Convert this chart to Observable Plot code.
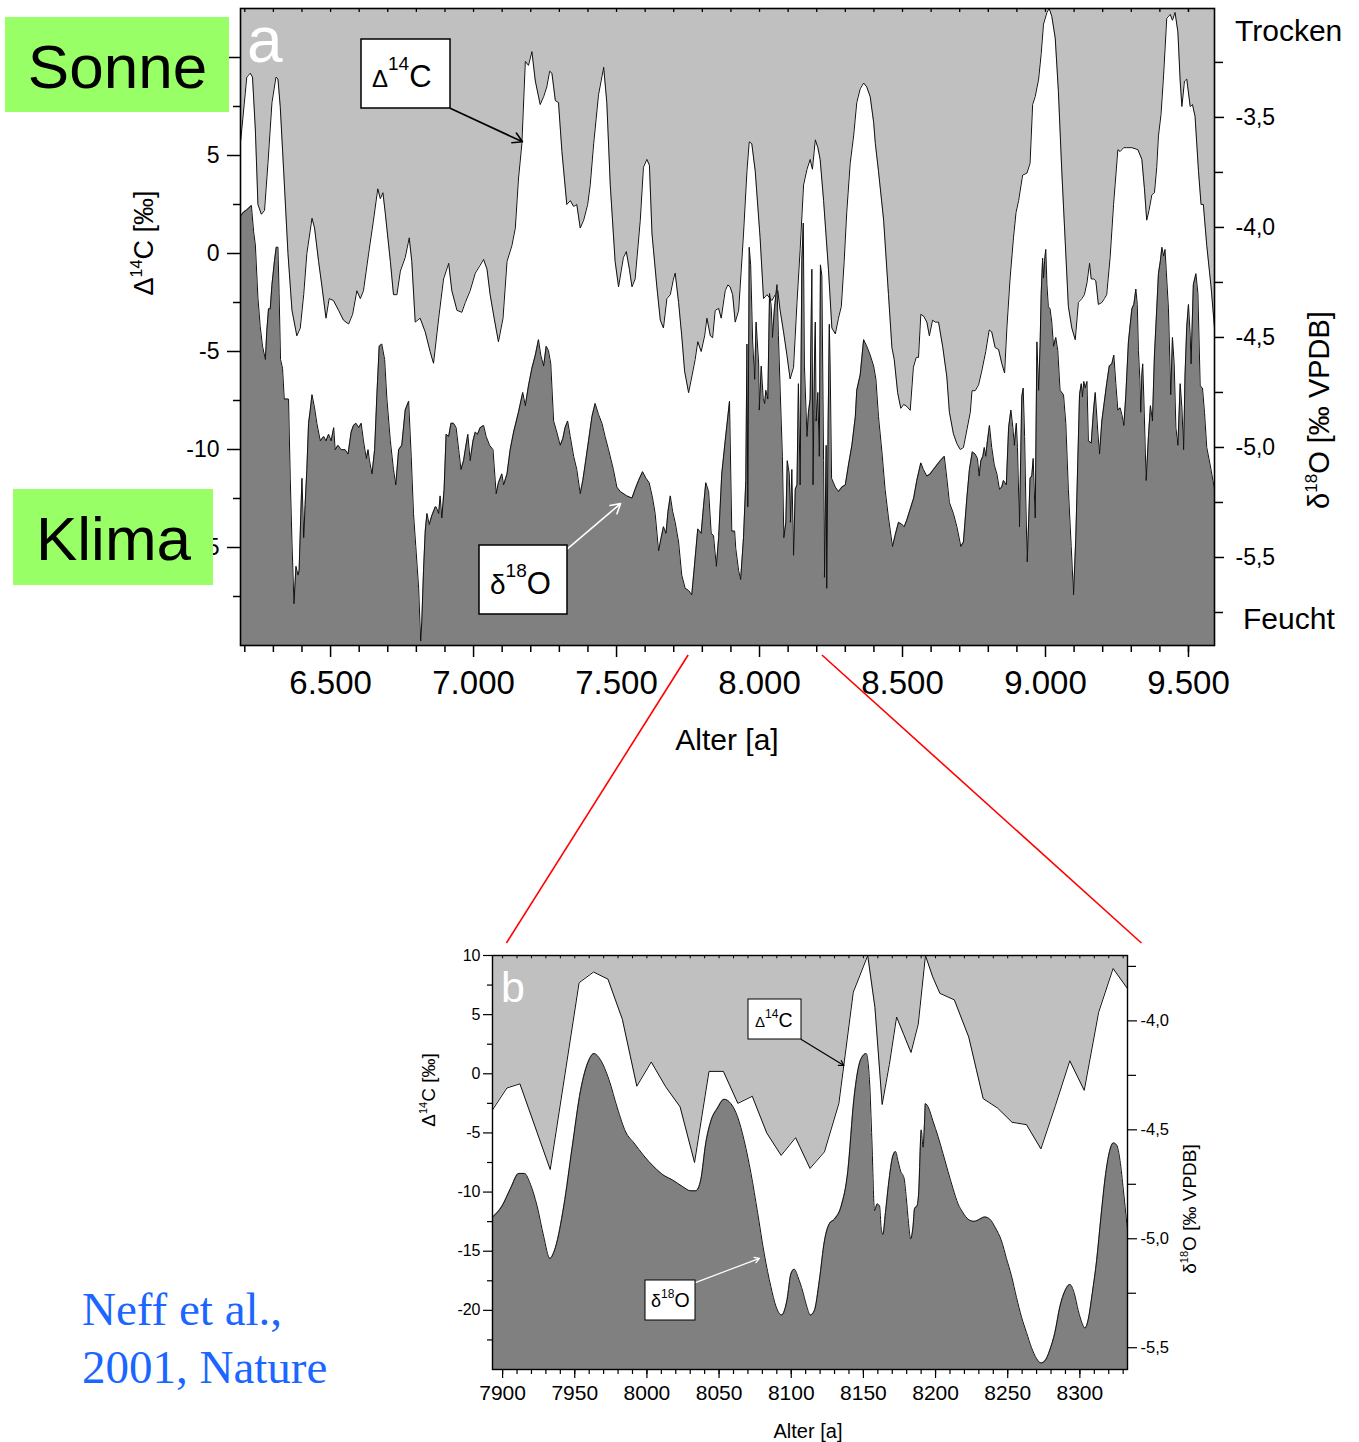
<!DOCTYPE html>
<html>
<head>
<meta charset="utf-8">
<script src="https://cdn.jsdelivr.net/npm/d3@7"></script>
<script src="https://cdn.jsdelivr.net/npm/@observablehq/plot@0.6"></script>
<style>
html,body{margin:0;padding:0;background:#fff}
#root{position:relative;width:1359px;height:1442px;overflow:hidden;background:#fff}
#root svg{position:absolute;left:0}
</style>
</head>
<body>
<div id="root"></div>
<script>
// ---------------- DATA ----------------
// Panel a: Δ14C [‰] (year BP, value)
const aC14 = [
[6186,5.8],[6207,9.0],[6219,9.2],[6227,9.0],[6237,6.3],[6246,2.5],[6258,2.0],[6269,2.2],[6281,4.6],[6295,7.7],[6309,9.0],[6316,8.9],[6324,7.5],[6336,4.2],[6351,0.0],[6365,-2.9],[6382,-4.2],[6394,-3.8],[6406,-2.1],[6417,0.0],[6435,1.8],[6444,1.3],[6458,-0.4],[6470,-1.7],[6484,-3.3],[6495,-2.3],[6510,-2.4],[6528,-2.9],[6545,-3.4],[6563,-3.6],[6577,-3.1],[6592,-1.9],[6604,-2.3],[6615,-1.9],[6633,0.0],[6650,1.7],[6665,3.3],[6674,2.8],[6683,3.1],[6691,2.1],[6709,-0.4],[6720,-2.1],[6732,-2.1],[6744,-0.9],[6761,-0.2],[6775,0.8],[6784,-0.4],[6796,-3.5],[6813,-3.3],[6831,-4.0],[6848,-5.0],[6860,-5.6],
[6878,-3.3],[6895,-1.3],[6913,-0.5],[6924,-1.9],[6942,-2.9],[6959,-3.0],[6971,-2.5],[6988,-1.9],[7006,-1.0],[7023,-0.6],[7035,-0.3],[7047,-0.8],[7058,-2.1],[7072,-3.3],[7087,-4.5],[7103,-3.3],[7117,-0.4],[7134,0.4],[7146,1.3],[7157,3.8],[7169,5.6],[7181,9.8],[7192,9.6],[7204,10.3],[7216,8.8],[7233,7.6],[7245,8.0],[7256,8.5],[7266,9.3],[7274,9.2],[7286,7.8],[7297,7.7],[7309,5.2],[7326,2.5],[7338,2.7],[7350,2.4],[7361,2.5],[7373,1.3],[7385,1.7],[7399,2.5],[7408,3.5],[7420,5.6],[7437,8.1],[7455,9.5],[7466,7.7],[7478,3.5],[7495,-0.4],[7507,-1.7],[7524,-0.2],[7534,0.1],[7545,-0.8],
[7554,-1.7],[7565,-1.3],[7583,1.7],[7594,4.4],[7606,4.8],[7615,4.5],[7624,1.0],[7641,-1.7],[7653,-3.4],[7664,-3.8],[7676,-2.3],[7688,-2.1],[7699,-1.3],[7705,-1.0],[7717,-2.5],[7728,-4.2],[7738,-6.0],[7752,-7.1],[7763,-6.3],[7775,-5.4],[7784,-4.5],[7796,-5.0],[7808,-4.2],[7816,-3.3],[7828,-4.2],[7836,-4.3],[7845,-2.9],[7857,-2.8],[7866,-3.3],[7880,-1.9],[7889,-1.6],[7897,-1.7],[7906,-2.1],[7915,-3.5],[7927,-2.9],[7944,1.0],[7956,4.2],[7964,5.7],[7973,5.6],[7985,4.2],[8002,0.8],[8014,-2.3],[8026,-2.1],[8043,-2.4],[8055,-2.1],[8064,-1.9],[8072,-2.9],[8084,-4.0],[8096,-5.2],[8107,-6.4],[8119,-5.8],[8131,-2.5],[8142,0.2],[8154,3.5],[8166,4.3],[8177,4.8],[8185,4.3],[8195,5.8],[8204,5.4],[8212,4.8],
[8224,2.7],[8241,-0.8],[8253,-3.8],[8265,-4.1],[8276,-3.3],[8286,-2.7],[8296,-0.4],[8305,2.1],[8317,4.6],[8329,6.0],[8340,7.7],[8352,8.4],[8364,8.7],[8375,8.5],[8387,8.0],[8399,6.7],[8405,5.6],[8416,4.2],[8434,1.7],[8451,-2.1],[8463,-4.8],[8471,-5.4],[8483,-7.1],[8494,-7.9],[8504,-7.7],[8515,-7.8],[8527,-8.0],[8538,-5.8],[8548,-5.3],[8556,-5.3],[8564,-3.1],[8574,-3.2],[8585,-3.5],[8594,-4.2],[8605,-3.4],[8614,-3.5],[8626,-3.5],[8641,-4.8],[8655,-6.3],[8664,-8.1],[8678,-9.2],[8690,-9.7],[8702,-10.0],[8713,-9.9],[8725,-9.0],[8737,-8.1],[8743,-7.0],[8754,-7.0],[8766,-6.7],[8777,-6.0],[8791,-5.0],[8803,-3.9],[8812,-4.0],[8824,-4.8],[8836,-4.9],[8847,-5.6],[8857,-6.1],[8865,-3.8],[8876,-1.3],[8888,0.8],[8897,2.1],
[8906,2.7],[8920,4.0],[8935,4.1],[8946,4.6],[8955,7.6],[8964,8.0],[8976,8.9],[8985,10.2],[8993,11.7],[9005,12.3],[9013,12.5],[9022,12.1],[9034,11.0],[9045,8.3],[9057,4.2],[9069,0.6],[9080,-2.7],[9092,-3.8],[9104,-4.4],[9115,-2.5],[9127,-2.3],[9136,-2.1],[9145,-1.5],[9154,-0.5],[9160,-1.3],[9169,-1.3],[9176,-1.4],[9185,-2.6],[9197,-2.5],[9206,-2.3],[9214,-2.1],[9226,-0.2],[9238,2.5],[9253,5.3],[9261,5.2],[9273,5.4],[9284,5.4],[9302,5.4],[9323,5.3],[9337,4.8],[9346,3.3],[9354,1.7],[9362,2.2],[9372,3.0],[9381,3.1],[9389,4.4],[9395,6.0],[9404,7.1],[9413,9.1],[9424,12.0],[9436,12.2],[9444,11.9],[9453,12.3],[9463,11.3],[9471,8.8],[9477,7.5],[9486,8.8],[9494,8.9],[9506,7.5],[9514,7.6],[9523,7.0],[9535,4.2],[9544,2.5],[9552,2.5],[9564,0.4],[9579,-1.7],[9591,-3.8]
];
// Panel a: δ18O [‰ VPDB]
const aO18 = [
[6184,-3.95],[6196,-3.93],[6207,-3.92],[6223,-3.90],[6231,-4.02],[6237,-4.08],[6246,-4.32],[6254,-4.45],[6262,-4.54],[6272,-4.60],[6277,-4.47],[6283,-4.37],[6289,-4.37],[6295,-4.26],[6304,-4.15],[6310,-4.09],[6316,-4.09],[6320,-4.30],[6325,-4.60],[6332,-4.64],[6338,-4.78],[6347,-4.78],[6353,-4.78],[6359,-5.14],[6365,-5.43],[6372,-5.71],[6379,-5.54],[6386,-5.58],[6390,-5.56],[6396,-5.30],[6400,-5.14],[6406,-5.41],[6411,-5.26],[6417,-5.10],[6423,-4.89],[6429,-4.83],[6435,-4.76],[6444,-4.82],[6452,-4.89],[6464,-4.97],[6476,-4.95],[6484,-4.97],[6493,-4.94],[6502,-4.97],[6511,-4.91],[6516,-5.01],[6526,-4.99],[6537,-5.01],[6551,-5.01],[6561,-5.03],[6572,-4.93],[6580,-4.90],[6589,-4.89],[6598,-4.91],[6607,-4.89],[6615,-4.97],[6625,-5.05],[6631,-5.01],[6636,-5.06],[6645,-5.12],[6654,-5.01],[6662,-4.76],[6670,-4.54],[6679,-4.53],[6689,-4.60],[6697,-4.78],[6709,-4.97],[6720,-5.10],[6728,-5.17],[6738,-5.01],[6749,-4.99],[6761,-4.83],[6773,-4.79],[6782,-5.04],[6790,-5.30],[6798,-5.45],[6808,-5.64],[6815,-5.88],[6819,-5.79],[6825,-5.56],[6831,-5.38],[6837,-5.30],[6845,-5.35],[6854,-5.31],[6866,-5.27],
[6869,-5.27],[6878,-5.30],[6883,-5.22],[6889,-5.32],[6897,-5.19],[6904,-4.94],[6913,-4.95],[6921,-4.89],[6930,-4.89],[6939,-4.91],[6948,-5.01],[6956,-5.10],[6965,-5.06],[6971,-5.01],[6980,-4.94],[6988,-5.06],[6998,-4.97],[7006,-4.93],[7014,-4.94],[7023,-4.91],[7035,-4.90],[7044,-4.95],[7056,-4.99],[7068,-5.01],[7079,-5.21],[7087,-5.16],[7099,-5.12],[7105,-5.17],[7117,-5.12],[7128,-5.01],[7140,-4.93],[7157,-4.84],[7172,-4.75],[7181,-4.81],[7192,-4.72],[7204,-4.64],[7216,-4.58],[7227,-4.51],[7235,-4.58],[7245,-4.63],[7254,-4.54],[7262,-4.56],[7270,-4.62],[7280,-4.88],[7291,-4.93],[7303,-4.99],[7312,-4.96],[7320,-4.91],[7329,-4.88],[7338,-4.95],[7350,-5.04],[7361,-5.10],[7373,-5.21],[7382,-5.15],[7390,-5.08],[7402,-4.97],[7414,-4.86],[7425,-4.80],[7437,-4.85],[7449,-4.89],[7460,-4.95],[7472,-5.01],[7489,-5.10],[7501,-5.18],[7513,-5.20],[7536,-5.22],
[7554,-5.23],[7565,-5.19],[7577,-5.15],[7591,-5.11],[7603,-5.14],[7614,-5.16],[7626,-5.23],[7635,-5.30],[7647,-5.47],[7656,-5.41],[7664,-5.36],[7673,-5.39],[7680,-5.29],[7688,-5.22],[7696,-5.29],[7705,-5.34],[7717,-5.43],[7728,-5.58],[7740,-5.64],[7752,-5.65],[7763,-5.67],[7773,-5.53],[7784,-5.37],[7796,-5.39],[7804,-5.27],[7812,-5.16],[7822,-5.20],[7831,-5.39],[7839,-5.40],[7849,-5.54],[7857,-5.41],[7868,-5.12],[7880,-4.97],[7895,-4.79],[7903,-5.38],[7913,-5.38],[7917,-5.46],[7927,-5.56],[7934,-5.60],[7944,-5.41],[7952,-5.15],[7956,-4.53],[7959,-5.27],[7964,-4.09],[7969,-4.17],[7976,-4.52],[7983,-4.69],[7988,-4.43],[7997,-4.62],[7999,-4.83],[8006,-4.63],[8013,-4.78],[8018,-4.80],[8022,-4.74],[8029,-4.78],[8035,-4.30],[8041,-4.36],[8045,-4.50],[8052,-4.37],[8061,-4.26],[8066,-4.49],[8072,-4.73],[8080,-5.04],[8085,-5.41],[8092,-5.34],[8097,-5.06],[8104,-5.12],[8108,-5.34],[8113,-5.10],[8119,-5.49],[8125,-5.19],[8131,-5.17],[8136,-4.71],[8142,-5.17],[8148,-4.15],[8153,-3.98],[8157,-4.63],[8166,-4.95],[8171,-4.84],[8177,-4.78],[8183,-4.19],[8187,-5.17],[8192,-4.62],[8195,-4.43],[8198,-4.88],[8204,-4.75],[8209,-5.04],[8213,-4.17],[8218,-4.22],[8224,-5.06],
[8227,-5.59],[8233,-4.99],[8235,-5.64],[8240,-4.88],[8244,-4.44],[8247,-4.63],[8252,-5.14],[8265,-5.18],[8276,-5.20],[8288,-5.18],[8300,-5.17],[8311,-5.08],[8323,-4.99],[8335,-4.86],[8340,-4.74],[8352,-4.67],[8364,-4.51],[8375,-4.54],[8387,-4.58],[8399,-4.63],[8407,-4.69],[8416,-4.86],[8428,-5.02],[8439,-5.19],[8451,-5.32],[8465,-5.45],[8474,-5.40],[8486,-5.34],[8498,-5.35],[8506,-5.36],[8515,-5.33],[8527,-5.28],[8539,-5.23],[8550,-5.15],[8564,-5.07],[8573,-5.10],[8585,-5.13],[8597,-5.12],[8608,-5.10],[8620,-5.08],[8632,-5.06],[8646,-5.04],[8655,-5.14],[8664,-5.25],[8678,-5.30],[8690,-5.36],[8704,-5.45],[8713,-5.43],[8725,-5.23],[8734,-5.10],[8744,-5.02],[8754,-5.03],[8762,-5.05],[8768,-5.13],[8774,-5.06],[8781,-5.04],[8786,-5.00],[8791,-5.04],[8797,-4.97],[8804,-4.90],[8812,-5.00],[8821,-5.08],[8830,-5.12],[8839,-5.19],[8847,-5.18],[8853,-5.15],[8863,-5.17],[8871,-4.91],[8879,-4.83],[8886,-4.91],[8891,-4.99],[8898,-4.89],[8902,-5.00],[8909,-5.36],
[8917,-4.77],[8922,-4.73],[8927,-4.95],[8931,-5.23],[8936,-5.52],[8941,-5.34],[8946,-5.14],[8952,-5.13],[8957,-5.05],[8964,-5.32],[8970,-4.52],[8976,-4.74],[8981,-4.54],[8985,-4.30],[8990,-4.14],[8993,-4.23],[8997,-4.15],[9001,-4.10],[9005,-4.26],[9010,-4.36],[9016,-4.37],[9022,-4.43],[9028,-4.54],[9036,-4.50],[9043,-4.56],[9051,-4.74],[9063,-4.76],[9071,-4.89],[9080,-5.19],[9090,-5.45],[9098,-5.67],[9106,-5.41],[9113,-5.06],[9119,-4.76],[9125,-4.71],[9129,-4.77],[9134,-4.70],[9139,-4.73],[9145,-4.70],[9150,-4.97],[9160,-4.98],[9168,-4.83],[9174,-4.75],[9183,-4.93],[9189,-5.03],[9197,-4.88],[9206,-4.79],[9214,-4.71],[9223,-4.63],[9232,-4.62],[9239,-4.58],[9246,-4.71],[9253,-4.83],[9261,-4.82],[9267,-4.85],[9274,-4.90],[9281,-4.76],[9290,-4.52],[9302,-4.37],[9309,-4.35],[9316,-4.28],[9321,-4.35],[9325,-4.56],[9330,-4.69],[9333,-4.84],[9337,-4.67],[9340,-4.62],[9344,-4.78],[9352,-5.15],[9360,-4.95],[9367,-4.81],[9374,-4.88],[9381,-4.58],[9389,-4.37],[9395,-4.21],[9402,-4.15],[9407,-4.09],[9413,-4.13],[9418,-4.10],[9422,-4.19],[9430,-4.37],[9438,-4.76],[9444,-4.50],[9450,-4.62],[9456,-4.91],[9463,-4.99],[9471,-4.71],[9477,-4.82],[9483,-5.01],[9488,-4.67],[9494,-4.45],[9500,-4.35],[9506,-4.49],[9509,-4.62],[9517,-4.26],[9526,-4.21],[9533,-4.30],[9541,-4.72],[9549,-4.73],[9556,-4.84],[9564,-5.00],[9576,-5.08],[9591,-5.19]
];
// Panel b: Δ14C [‰]
const bC14 = [
[7893,-3.05],[7903,-1.2],[7912,-0.85],[7933,-8.1],[7953,7.7],[7963,8.6],[7973,8.0],[7983,4.6],[7993,-1.05],[8003,1.0],[8013,-1.1],[8023,-2.8],[8033,-7.5],[8043,0.2],[8053,0.2],[8063,-2.5],[8073,-1.9],[8083,-5.0],[8093,-6.9],[8103,-5.4],[8113,-8.0],[8123,-6.6],[8133,-2.5],[8143,6.9],[8153,10.0],[8158,5.6],[8163,-2.6],[8168,0.8],[8173,4.8],[8178,3.3],[8183,1.8],[8188,4.2],[8193,10.0],[8198,8.2],[8203,6.8],[8213,6.25],[8223,3.1],[8233,-2.1],[8243,-2.9],[8253,-4.1],[8263,-4.3],[8273,-6.35],[8283,-2.7],[8293,1.1],[8303,-1.4],[8313,5.2],[8323,8.9],[8333,7.2]
];
// Panel b: δ18O [‰ VPDB]
const bO18 = [
[7893.1,-4.90],[7899.6,-4.85],[7905.4,-4.77],[7911.2,-4.70],[7915.1,-4.70],[7919.3,-4.75],[7923.9,-4.85],[7928.5,-4.99],[7932.7,-5.09],[7936.6,-5.04],[7942.4,-4.85],[7948.2,-4.58],[7954.0,-4.32],[7959.8,-4.18],[7963.3,-4.15],[7967.9,-4.18],[7973.7,-4.27],[7979.5,-4.40],[7985.3,-4.51],[7991.0,-4.56],[7998.0,-4.62],[8004.9,-4.67],[8011.9,-4.71],[8017.7,-4.73],[8024.6,-4.76],[8030.4,-4.78],[8033.9,-4.78],[8037.3,-4.73],[8040.8,-4.56],[8044.3,-4.46],[8048.9,-4.40],[8053.5,-4.36],[8058.2,-4.38],[8062.8,-4.44],[8067.4,-4.55],[8072.1,-4.70],[8076.7,-4.88],[8081.3,-5.07],[8085.9,-5.22],[8089.4,-5.31],[8093.3,-5.35],[8097.1,-5.28],[8099.8,-5.16],[8102.1,-5.14],[8104.9,-5.18],[8107.9,-5.24],[8110.3,-5.30],[8113.3,-5.35],[8116.0,-5.33],[8119.5,-5.19],[8123.0,-5.01],[8126.5,-4.93],[8129.9,-4.91],[8134.6,-4.85],[8139.2,-4.69],[8143.4,-4.36],[8148.0,-4.18],[8151.9,-4.15],[8154.2,-4.27],[8155.9,-4.55],[8157.7,-4.87],[8159.6,-4.84],[8161.2,-4.85],[8162.3,-4.95],[8163.5,-4.98],[8165.3,-4.88],[8167.4,-4.75],[8170.4,-4.62],[8172.3,-4.60],[8173.9,-4.64],[8175.8,-4.69],[8178.1,-4.72],[8179.7,-4.81],[8181.3,-4.93],[8182.7,-5.00],[8184.3,-4.95],[8185.5,-4.86],[8187.1,-4.85],[8188.3,-4.79],[8190.1,-4.50],[8191.3,-4.58],[8192.4,-4.46],[8192.9,-4.38],[8195.2,-4.40],[8198.2,-4.46],[8201.7,-4.53],[8205.2,-4.61],[8208.6,-4.69],[8212.1,-4.77],[8215.6,-4.84],[8219.0,-4.88],[8222.5,-4.91],[8226.7,-4.92],[8230.6,-4.91],[8234.1,-4.90],[8237.6,-4.91],[8241.5,-4.95],[8245.7,-5.01],[8249.1,-5.09],[8252.6,-5.17],[8256.1,-5.27],[8259.6,-5.36],[8263.0,-5.43],[8266.5,-5.50],[8270.0,-5.55],[8273.0,-5.57],[8275.8,-5.56],[8279.2,-5.51],[8282.7,-5.43],[8286.2,-5.31],[8289.6,-5.24],[8293.1,-5.21],[8296.1,-5.25],[8298.9,-5.33],[8301.7,-5.39],[8303.5,-5.41],[8305.8,-5.37],[8308.6,-5.25],[8311.6,-5.10],[8314.6,-4.90],[8317.9,-4.70],[8320.9,-4.59],[8323.2,-4.56],[8325.5,-4.57],[8327.8,-4.64],[8330.2,-4.78],[8333.2,-4.98]
];

// Axis domains and ticks
const aXDomain = [6185, 9591];
const aC14Domain = [-20, 12.5];
const aO18Domain = [-5.9, -3.005];
const aXMajor = [6500, 7000, 7500, 8000, 8500, 9000, 9500];
const aXMinor = [6200,6300,6400,6600,6700,6800,6900,7100,7200,7300,7400,7600,7700,7800,7900,8100,8200,8300,8400,8600,8700,8800,8900,9100,9200,9300,9400,9500];
const aC14Major = [-15, -10, -5, 0, 5];      // labelled (the "10" label is hidden behind the "Sonne" box)
const aC14Hidden = [10];                     // tick only
const aC14Minor = [-17.5, -12.5, -7.5, -2.5, 2.5, 7.5];
const aO18Major = [-5.5, -5.0, -4.5, -4.0, -3.5];
const aO18Minor = [-5.75, -5.25, -4.75, -4.25, -3.75, -3.25];

const bXDomain = [7893, 8333];
const bC14Domain = [-25, 10];
const bO18Domain = [-5.6, -3.7];
const bXMajor = [7900, 7950, 8000, 8050, 8100, 8150, 8200, 8250, 8300];
const bXMinor = [7900,7910,7920,7930,7940,7950,7960,7970,7980,7990,8000,8010,8020,8030,8040,8050,8060,8070,8080,8090,8100,8110,8120,8130,8140,8150,8160,8170,8180,8190,8200,8210,8220,8230,8240,8250,8260,8270,8280,8290,8300,8310,8320,8330];
const bC14Major = [-20, -15, -10, -5, 0, 5, 10];
const bC14Minor = [-22.5, -17.5, -12.5, -7.5, -2.5, 2.5, 7.5];
const bO18Major = [-5.5, -5.0, -4.5, -4.0];
const bO18Minor = [-5.25, -4.75, -4.25, -3.75];

// Annotation arrows (data coordinates)
const arrowAC14 = [{x1: 6920, y1: 7.4, x2: 7171, y2: 5.7}];
const arrowAO18 = [{x1: 7329, y1: -5.46, x2: 7514, y2: -5.255}];
const arrowBC14 = [{x1: 8107, y1: 2.9, x2: 8136.5, y2: 0.7}];
const arrowBO18 = [{x1: 8034, y1: -5.20, x2: 8078, y2: -5.09}];
// zoom connector: span in panel a, targets in panel b
const zoomSpan = [7752, 8220];
const zoomTargets = [7903, 8343];

// ---------------- STYLE ----------------
const FONT = '"Liberation Sans", Arial, Helvetica, sans-serif';
const LIGHT = "#c0c0c0", DARK = "#808080", LINE = "#111";
const loc = d3.formatLocale({decimal: ",", thousands: ".", grouping: [3], currency: ["", ""], minus: "-"});
const fmtThousand = loc.format(",");
const fmtOne = loc.format(".1f");
const fmtInt = loc.format("d");
const blank = () => "";
const rows = arr => arr.map(([x, v]) => ({x, v}));

const root = document.getElementById("root");

// ---------------- PANEL A ----------------
const A = {width: 1359, height: 700, marginLeft: 240, marginRight: 145, marginTop: 8, marginBottom: 55};
const A_TOP = 0;

const plotA1 = Plot.plot({
  ...A,
  style: {fontFamily: FONT, background: "transparent", color: "#000"},
  x: {domain: aXDomain},
  y: {domain: aC14Domain},
  marks: [
    Plot.areaY(rows(aC14), {x: "x", y1: "v", y2: aC14Domain[1], fill: LIGHT, clip: true}),
    Plot.lineY(rows(aC14), {x: "x", y: "v", stroke: LINE, strokeWidth: 1, clip: true}),
    Plot.ruleX(aXMinor.concat(aXMajor), {y1: aC14Domain[1], y2: aC14Domain[1] - 0.2, stroke: "#000", strokeWidth: 1.3}),
    Plot.axisX({ticks: aXMinor, tickSize: 7, tickFormat: blank, strokeWidth: 1.5, label: null}),
    Plot.axisX({ticks: aXMajor, tickSize: 12, tickPadding: 13, tickFormat: fmtThousand, fontSize: 33, strokeWidth: 1.5, label: null}),
    Plot.axisY({ticks: aC14Minor, tickSize: 7, tickFormat: blank, strokeWidth: 1.5, label: null}),
    Plot.axisY({ticks: aC14Hidden, tickSize: 13, tickFormat: blank, strokeWidth: 1.5, label: null}),
    Plot.axisY({ticks: aC14Major, tickSize: 13, tickPadding: 8, tickFormat: fmtInt, fontSize: 23, strokeWidth: 1.5, label: null}),
    Plot.arrow(arrowAC14, {x1: "x1", y1: "y1", x2: "x2", y2: "y2", stroke: "#000", strokeWidth: 1.6, headLength: 10})
  ]
});
plotA1.style.top = A_TOP + "px";
root.appendChild(plotA1);

const plotA2 = Plot.plot({
  ...A,
  style: {fontFamily: FONT, background: "transparent", color: "#000"},
  x: {domain: aXDomain, axis: null},
  y: {domain: aO18Domain, axis: null},
  marks: [
    Plot.areaY(rows(aO18), {x: "x", y1: aO18Domain[0], y2: "v", fill: DARK, clip: true}),
    Plot.lineY(rows(aO18), {x: "x", y: "v", stroke: LINE, strokeWidth: 1, clip: true}),
    Plot.axisY({anchor: "right", ticks: aO18Minor, tickSize: 8, tickFormat: blank, strokeWidth: 1.5, label: null}),
    Plot.axisY({anchor: "right", ticks: aO18Major, tickSize: 9, tickPadding: 12, tickFormat: fmtOne, fontSize: 23, strokeWidth: 1.5, label: null}),
    Plot.arrow(arrowAO18, {x1: "x1", y1: "y1", x2: "x2", y2: "y2", stroke: "#fff", strokeWidth: 1.6, headLength: 10}),
    Plot.frame({stroke: "#000", strokeWidth: 1.6})
  ]
});
plotA2.style.top = A_TOP + "px";
root.appendChild(plotA2);

// ---------------- PANEL B ----------------
const B = {width: 1359, height: 540, marginLeft: 492, marginRight: 232, marginTop: 55, marginBottom: 71};
const B_TOP = 900;

const plotB1 = Plot.plot({
  ...B,
  style: {fontFamily: FONT, background: "transparent", color: "#000"},
  x: {domain: bXDomain},
  y: {domain: bC14Domain},
  marks: [
    Plot.areaY(rows(bC14), {x: "x", y1: "v", y2: bC14Domain[1], fill: LIGHT, clip: true}),
    Plot.lineY(rows(bC14), {x: "x", y: "v", stroke: LINE, strokeWidth: 1, clip: true}),
    Plot.ruleX(bXMinor, {y1: bC14Domain[1], y2: bC14Domain[1] - 0.28, stroke: "#000", strokeWidth: 1}),
    Plot.axisX({ticks: bXMinor, tickSize: 5, tickFormat: blank, strokeWidth: 1.2, label: null}),
    Plot.axisX({ticks: bXMajor, tickSize: 9, tickPadding: 7, tickFormat: fmtInt, fontSize: 21, strokeWidth: 1.2, label: null}),
    Plot.axisY({ticks: bC14Minor, tickSize: 5, tickFormat: blank, strokeWidth: 1.2, label: null}),
    Plot.axisY({ticks: bC14Major, tickSize: 9, tickPadding: 3, tickFormat: fmtInt, fontSize: 16, strokeWidth: 1.2, label: null}),
    Plot.arrow(arrowBC14, {x1: "x1", y1: "y1", x2: "x2", y2: "y2", stroke: "#000", strokeWidth: 1.2, headLength: 7})
  ]
});
plotB1.style.top = B_TOP + "px";
root.appendChild(plotB1);

const plotB2 = Plot.plot({
  ...B,
  style: {fontFamily: FONT, background: "transparent", color: "#000"},
  x: {domain: bXDomain, axis: null},
  y: {domain: bO18Domain, axis: null},
  marks: [
    Plot.areaY(rows(bO18), {x: "x", y1: bO18Domain[0], y2: "v", fill: DARK, curve: "monotone-x", clip: true}),
    Plot.lineY(rows(bO18), {x: "x", y: "v", stroke: LINE, strokeWidth: 1, curve: "monotone-x", clip: true}),
    Plot.axisY({anchor: "right", ticks: bO18Minor, tickSize: 8, tickFormat: blank, strokeWidth: 1.2, label: null}),
    Plot.axisY({anchor: "right", ticks: bO18Major, tickSize: 9, tickPadding: 4, tickFormat: fmtOne, fontSize: 16.5, strokeWidth: 1.2, label: null}),
    Plot.arrow(arrowBO18, {x1: "x1", y1: "y1", x2: "x2", y2: "y2", stroke: "#fff", strokeWidth: 1.2, headLength: 7}),
    Plot.frame({stroke: "#000", strokeWidth: 1.4})
  ]
});
plotB2.style.top = B_TOP + "px";
root.appendChild(plotB2);

// ---------------- DECORATION ----------------
const xA = plotA1.scale("x"), xB = plotB1.scale("x");
const aBottom = A_TOP + A.height - A.marginBottom;
const bTopY = B_TOP + B.marginTop;
const l1 = [xA.apply(zoomSpan[0]), aBottom + 10, xB.apply(zoomTargets[0]), bTopY - 12];
const l2 = [xA.apply(zoomSpan[1]), aBottom + 10, xB.apply(zoomTargets[1]), bTopY - 12];

const sup = (t, fs, dy) => `<tspan font-size="${fs}" dy="${-dy}">${t}</tspan>`;
const decor = `
<svg xmlns="http://www.w3.org/2000/svg" width="1359" height="1442" style="top:0;pointer-events:none" font-family='${FONT}'>
  <line x1="${l1[0]}" y1="${l1[1]}" x2="${l1[2]}" y2="${l1[3]}" stroke="#ff0000" stroke-width="1.6"/>
  <line x1="${l2[0]}" y1="${l2[1]}" x2="${l2[2]}" y2="${l2[3]}" stroke="#ff0000" stroke-width="1.6"/>

  <rect x="5" y="17" width="224" height="95" fill="#99ff66"/>
  <text x="117.5" y="88" font-size="62" text-anchor="middle" fill="#000">Sonne</text>
  <rect x="13" y="489" width="200" height="96" fill="#99ff66"/>
  <text x="113.5" y="560" font-size="62" text-anchor="middle" fill="#000">Klima</text>

  <text x="247" y="62" font-size="64" fill="#fff">a</text>
  <text x="501" y="1002" font-size="43" fill="#fff">b</text>

  <rect x="361" y="39" width="89" height="69" fill="#fff" stroke="#000" stroke-width="1.5"/>
  <text x="372" y="87" font-size="31"><tspan font-size="24">Δ</tspan>${sup("14", 19, 17)}<tspan dy="17">C</tspan></text>
  <rect x="479" y="545" width="88" height="69" fill="#fff" stroke="#000" stroke-width="1.5"/>
  <text x="490" y="594" font-size="31"><tspan font-size="28">δ</tspan>${sup("18", 19, 17)}<tspan dy="17">O</tspan></text>

  <rect x="748" y="999" width="53" height="40" fill="#fff" stroke="#000" stroke-width="1"/>
  <text x="755" y="1027" font-size="19.5"><tspan font-size="15">Δ</tspan>${sup("14", 12, 9)}<tspan dy="9">C</tspan></text>
  <rect x="645" y="1280" width="50" height="40" fill="#fff" stroke="#000" stroke-width="1"/>
  <text x="651" y="1307" font-size="19.5"><tspan font-size="18">δ</tspan>${sup("18", 12, 9)}<tspan dy="9">O</tspan></text>

  <text transform="translate(153,243) rotate(-90)" text-anchor="middle" font-size="27">Δ${sup("14", 16, 11)}<tspan dy="11">C [‰]</tspan></text>
  <text transform="translate(1329,410) rotate(-90)" text-anchor="middle" font-size="29">δ${sup("18", 17, 12)}<tspan dy="12">O [‰ VPDB]</tspan></text>
  <text x="727" y="750" text-anchor="middle" font-size="30">Alter [a]</text>
  <text x="1235" y="41" font-size="30">Trocken</text>
  <text x="1243" y="629" font-size="30">Feucht</text>

  <text transform="translate(435,1090) rotate(-90)" text-anchor="middle" font-size="19">Δ${sup("14", 11, 8)}<tspan dy="8">C [‰]</tspan></text>
  <text transform="translate(1196,1209) rotate(-90)" text-anchor="middle" font-size="19">δ${sup("18", 11, 8)}<tspan dy="8">O [‰ VPDB]</tspan></text>
  <text x="808" y="1438" text-anchor="middle" font-size="20">Alter [a]</text>

  <text x="82" y="1325" font-family='"Liberation Serif", "Times New Roman", serif' font-size="47" fill="#1a66ff">Neff et al.,</text>
  <text x="82" y="1383" font-family='"Liberation Serif", "Times New Roman", serif' font-size="47" fill="#1a66ff">2001, Nature</text>
</svg>`;
root.insertAdjacentHTML("beforeend", decor);
</script>
</body>
</html>
